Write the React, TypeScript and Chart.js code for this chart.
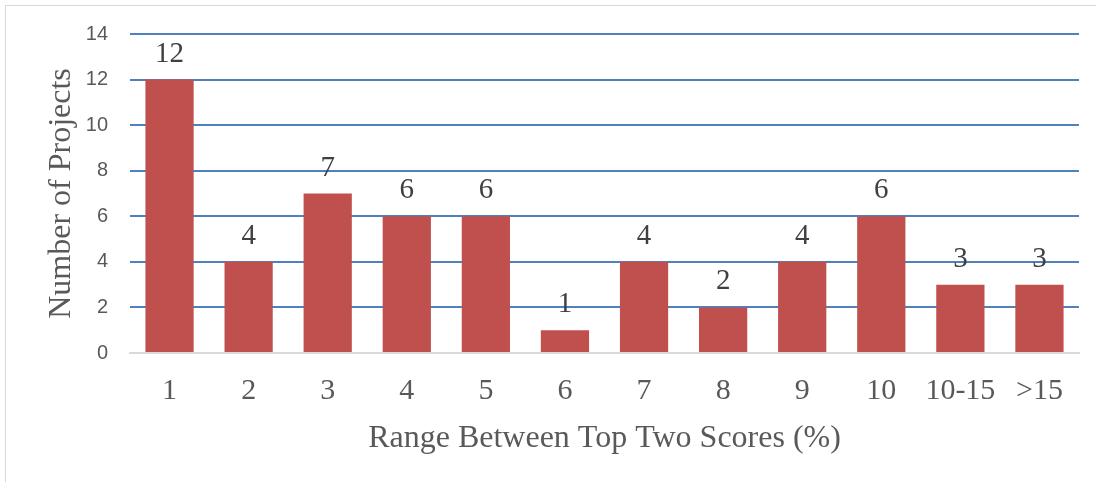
import React, { useEffect, useRef } from "react";
import { Chart, registerables } from "chart.js";

Chart.register(...registerables);

const categories = ["1", "2", "3", "4", "5", "6", "7", "8", "9", "10", "10-15", ">15"];
const projectCounts = [12, 4, 7, 6, 6, 1, 4, 2, 4, 6, 3, 3];
const yTicks = [0, 2, 4, 6, 8, 10, 12, 14];

const SERIF = "'Liberation Serif', 'Times New Roman', serif";
const SANS = "'Liberation Sans', Arial, sans-serif";

const framePlugin = {
  id: "frame",
  beforeDraw(chart: any) {
    const ctx = chart.ctx;
    ctx.save();
    ctx.fillStyle = "#ffffff";
    ctx.fillRect(0, 0, chart.width, chart.height);
    ctx.strokeStyle = "#d9d9d9";
    ctx.lineWidth = 1;
    ctx.strokeRect(5.5, 5.5, chart.width + 20, chart.height + 20);
    ctx.restore();
  },
};

const labelPlugin = {
  id: "barLabels",
  afterDatasetsDraw(chart: any) {
    const ctx = chart.ctx;
    const meta = chart.getDatasetMeta(0);
    const data = chart.data.datasets[0].data;
    ctx.save();
    ctx.font = `29px ${SERIF}`;
    ctx.fillStyle = "#404040";
    ctx.textAlign = "center";
    ctx.textBaseline = "alphabetic";
    meta.data.forEach((bar: any, i: number) => {
      ctx.fillText(String(data[i]), bar.x, bar.y - 18);
    });
    ctx.restore();
  },
};

export default function App() {
  const ref = useRef<HTMLCanvasElement | null>(null);
  useEffect(() => {
    document.body.style.margin = "0";
    const chart = new Chart(ref.current as HTMLCanvasElement, {
      type: "bar",
      data: {
        labels: categories,
        datasets: [
          {
            data: projectCounts,
            backgroundColor: "#c0504d",
            barPercentage: 0.61,
            categoryPercentage: 1,
          },
        ],
      },
      options: {
        responsive: false,
        animation: false,
        layout: { padding: { left: 0, right: 17, top: 34, bottom: 0 } },
        plugins: { legend: { display: false }, tooltip: { enabled: false } },
        scales: {
          x: {
            grid: { display: false, drawTicks: false },
            border: { display: true, color: "#d9d9d9", width: 2 },
            ticks: {
              padding: 20,
              color: "#595959",
              font: { family: SERIF, size: 30 },
              maxRotation: 0,
              autoSkip: false,
            },
            title: {
              display: true,
              text: "Range Between Top Two Scores (%)",
              color: "#595959",
              font: { family: SERIF, size: 32 },
              padding: { top: 0, bottom: 24 },
            },
            afterFit(scale: any) {
              scale.height = 129;
            },
          },
          y: {
            min: 0,
            max: 14,
            afterBuildTicks(scale: any) {
              scale.ticks = yTicks.map((v) => ({ value: v }));
            },
            grid: {
              drawTicks: false,
              color: (c: any) => (c.tick && c.tick.value === 0 ? "rgba(0,0,0,0)" : "#4f81bd"),
              lineWidth: 2,
            },
            border: { display: false },
            ticks: {
              padding: 22,
              color: "#595959",
              font: { family: SANS, size: 20 },
            },
            title: {
              display: true,
              text: "Number of Projects",
              color: "#595959",
              font: { family: SERIF, size: 32 },
              padding: { top: 42, bottom: 0 },
            },
            afterFit(scale: any) {
              scale.width = 130;
            },
          },
        },
      },
      plugins: [framePlugin, labelPlugin],
    });
    return () => chart.destroy();
  }, []);
  return <canvas ref={ref} width={1096} height={482} style={{ display: "block" }} />;
}
